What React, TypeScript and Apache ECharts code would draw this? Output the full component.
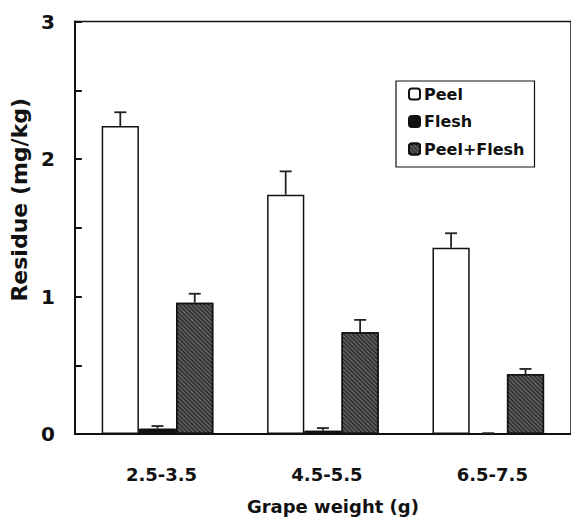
import React, { useEffect, useRef } from "react";
import * as echarts from "echarts";

const categories = ["2.5-3.5", "4.5-5.5", "6.5-7.5"];
const seriesNames = ["Peel", "Flesh", "Peel+Flesh"];
const peel = [2.24, 1.74, 1.355];
const peelErrTop = [2.34, 1.91, 1.46];
const flesh = [0.04, 0.025, 0.006];
const fleshErrTop = [0.058, 0.043, 0.006];
const peelFlesh = [0.955, 0.74, 0.437];
const peelFleshErrTop = [1.02, 0.83, 0.473];
const yTicks = [0, 1, 2, 3];

const FONT = "'DejaVu Sans', 'Liberation Sans', Arial, sans-serif";
const CAT_GAP = 0.325;

export default function App() {
  const ref = useRef<HTMLDivElement>(null);
  useEffect(() => {
    const chart = echarts.init(ref.current!, null, { renderer: "svg" });
    const values = [peel, flesh, peelFlesh];
    const tops = [peelErrTop, fleshErrTop, peelFleshErrTop];
    const errData: number[][] = [];
    values.forEach((arr, s) =>
      arr.forEach((v, i) => errData.push([i, v, tops[s][i], s]))
    );
    chart.setOption({
      animation: false,
      grid: {
        left: 73,
        right: 0,
        top: 21.5,
        bottom: 86,
        show: true,
        borderColor: "#111",
        borderWidth: 1.5,
        backgroundColor: "transparent",
      },
      legend: {
        data: seriesNames.map((n) => ({ name: n })),
        orient: "vertical",
        left: 396,
        top: 81,
        itemWidth: 11,
        itemHeight: 11,
        itemGap: 9.5,
        padding: [4, 10, 9, 12],
        borderColor: "#111",
        borderWidth: 1.2,
        backgroundColor: "#fff",
        textStyle: {
          fontFamily: FONT,
          fontWeight: "bold",
          fontSize: 16,
          color: "#111",
          lineHeight: 18,
          padding: [0, 0, 0, -1],
        },
      },
      xAxis: {
        type: "category",
        data: categories,
        name: "Grape weight (g)",
        nameLocation: "middle",
        nameGap: 63,
        nameTextStyle: {
          fontFamily: FONT,
          fontWeight: "bold",
          fontSize: 18,
          color: "#111",
          padding: [0, 0, 0, 20],
        },
        axisLine: { lineStyle: { color: "#111", width: 2 } },
        axisTick: { inside: true, length: 7, lineStyle: { color: "#111", width: 2 } },
        axisLabel: {
          fontFamily: FONT,
          fontWeight: "bold",
          fontSize: 18,
          color: "#111",
          margin: 31,
          padding: [0, 0, 0, 8],
        },
        splitLine: { show: false },
      },
      yAxis: {
        type: "value",
        min: 0,
        max: 3,
        interval: 1,
        name: "Residue (mg/kg)",
        nameLocation: "middle",
        nameGap: 40,
        nameRotate: 90,
        nameTextStyle: {
          fontFamily: FONT,
          fontWeight: "bold",
          fontSize: 22,
          color: "#111",
          padding: [0, 0, 0, 56],
        },
        axisLine: { show: true, lineStyle: { color: "#111", width: 2 } },
        axisTick: { show: true, inside: true, length: 7, lineStyle: { color: "#111", width: 2 } },
        minorTick: { show: true, splitNumber: 2, length: 7, lineStyle: { color: "#111", width: 2 } },
        axisLabel: {
          fontFamily: FONT,
          fontWeight: "bold",
          fontSize: 20,
          color: "#111",
          margin: 20,
          formatter: (v: number) => (yTicks.includes(v) ? String(v) : ""),
        },
        splitLine: { show: false },
      },
      series: [
        {
          name: "Peel",
          type: "bar",
          data: peel,
          barGap: "0%",
          barCategoryGap: CAT_GAP * 100 + "%",
          itemStyle: { color: "#fff", borderColor: "#111", borderWidth: 1.5 },
        },
        {
          name: "Flesh",
          type: "bar",
          data: flesh,
          itemStyle: { color: "#111", borderColor: "#111", borderWidth: 1 },
        },
        {
          name: "Peel+Flesh",
          type: "bar",
          data: peelFlesh,
          itemStyle: {
            color: "#333",
            borderColor: "#111",
            borderWidth: 1.5,
            decal: {
              symbol: "rect",
              symbolSize: 1,
              color: "rgba(255,255,255,0.3)",
              dashArrayX: [1, 0],
              dashArrayY: [1, 2],
              rotation: Math.PI / 4,
            },
          },
        },
        {
          name: "err",
          type: "custom",
          data: errData,
          z: 5,
          renderItem: (params: any, api: any) => {
            const ci = api.value(0);
            const v = api.value(1);
            const t = api.value(2);
            const s = api.value(3);
            const bw = api.size([1, 0])[0];
            const barW = (bw * (1 - CAT_GAP)) / 3;
            const p0 = api.coord([ci, v]);
            const p1 = api.coord([ci, t]);
            const cx = p0[0] + (s - 1) * barW;
            const style = { stroke: "#222", lineWidth: 1.8 };
            return {
              type: "group",
              children: [
                { type: "line", shape: { x1: cx, y1: p0[1], x2: cx, y2: p1[1] }, style },
                { type: "line", shape: { x1: cx - 6, y1: p1[1], x2: cx + 6, y2: p1[1] }, style },
              ],
            };
          },
        },
      ],
    });
    return () => chart.dispose();
  }, []);
  return (
    <div
      ref={ref}
      style={{ position: "fixed", left: 0, top: 0, width: 571, height: 520, background: "#fff" }}
    />
  );
}
